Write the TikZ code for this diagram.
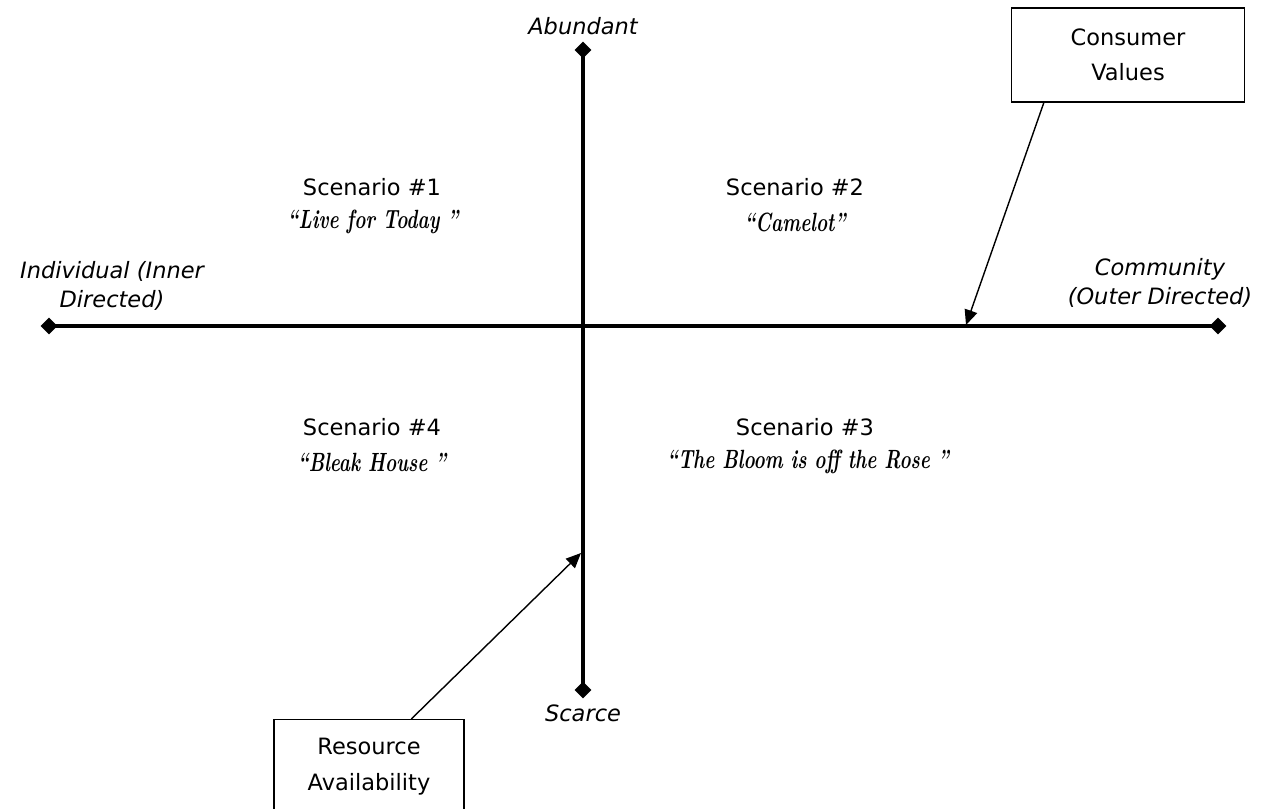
\documentclass[tikz,border=0pt]{standalone}
\usepackage{fontspec}
\setsansfont{DejaVu Sans}
\usetikzlibrary{arrows.meta,positioning,shapes.geometric}
\newcommand{\brush}[1]{\scalebox{0.72}[1]{#1}}
\tikzset{
 axisline/.style={
 line width=1.8pt,
 draw=black
 },
 axisend/.style={
 diamond,
 fill=black,
 inner sep=0pt,
 minimum size=3.4mm
 },
 axislabel/.style={
 align=center,
 font=\fontsize{12.8}{17}\selectfont\sffamily\itshape
 },
 scenario/.style={
 align=center,
 font=\fontsize{12.8}{16}\selectfont\sffamily
 },
 motto/.style={
 font=\fontsize{15}{17}\selectfont\rmfamily\bfseries\itshape
 },
 driverbox/.style={
 rectangle,
 draw=black,
 line width=0.8pt,
 align=center,
 minimum height=1.88cm,
 font=\fontsize{12.8}{20}\selectfont\sffamily
 },
 pointer/.style={-{Triangle[length=3mm,width=2.6mm]}, line width=0.8pt}
}
\begin{document}
\begin{tikzpicture}[x=0.02cm, y=-0.02cm]
 \clip (0,0) rectangle (1270,808);

 \node[axisend] (top) at (583,50) {};
 \node[axisend] (bottom) at (583,690) {};
 \node[axisend] (west) at (49,326) {};
 \node[axisend] (east) at (1218,326) {};
 \draw[axisline] (top.center) -- (bottom.center);
 \draw[axisline] (west.center) -- (east.center);

 \node[axislabel, above=0pt of top] (abundant) {Abundant};
 \node[axislabel, below=0pt of bottom] (scarce) {Scarce};
 \node[axislabel] (individual) at (112,286) {Individual (Inner\\Directed)};
 \node[axislabel] (community) at (1160,283) {Community\\(Outer Directed)};

 \node[scenario] (sc1) at (372,187) {Scenario \#1};
 \node[motto] (m1) at (373,222) {\brush{“Live for Today ”}};
 \node[scenario] (sc2) at (795,187) {Scenario \#2};
 \node[motto] (m2) at (795,222) {\brush{“Camelot”}};
 \node[scenario] (sc3) at (805,427) {Scenario \#3};
 \node[motto] (m3) at (808,462) {\brush{“The Bloom is off the Rose ”}};
 \node[scenario] (sc4) at (372,427) {Scenario \#4};
 \node[motto] (m4) at (372,462) {\brush{“Bleak House ”}};

 \node[driverbox, minimum width=4.66cm] (consumer) at (1128,55) {Consumer\\Values};
 \node[driverbox, minimum width=3.8cm, anchor=north] (resource) at (369,719) {Resource\\Availability};

 \coordinate (cvmark) at (966,325);
 \coordinate (ramark) at (581,553);
 \draw[pointer] ([xshift=0.66cm]consumer.south west) -- (cvmark);
 \draw[pointer] ([xshift=2.76cm]resource.north west) -- (ramark);
\end{tikzpicture}
\end{document}
